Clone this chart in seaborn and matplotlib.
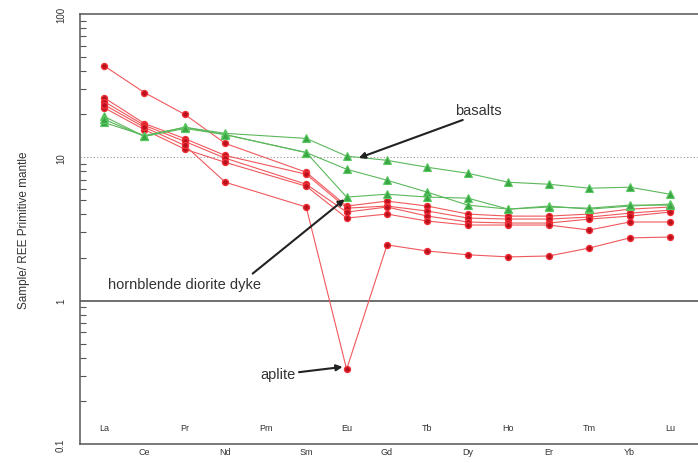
import numpy as np
import pandas as pd
import matplotlib
matplotlib.use("Agg")
import matplotlib.pyplot as plt
import seaborn as sns
from matplotlib.ticker import LogLocator, NullFormatter, FixedLocator

# ---------------- data ----------------
elements = ["La", "Ce", "Pr", "Nd", "Pm", "Sm", "Eu", "Gd", "Tb", "Dy", "Ho", "Er", "Tm", "Yb", "Lu"]
measured = ["La", "Ce", "Pr", "Nd", "Sm", "Eu", "Gd", "Tb", "Dy", "Ho", "Er", "Tm", "Yb", "Lu"]

dyke_1 = [43.5, 28.3, 19.9, 12.5, 7.87, 4.57, 4.95, 4.57, 4.02, 3.89, 3.89, 4.02, 4.35, 4.50]
dyke_2 = [26.1, 17.2, 13.5, 10.3, 7.62, 4.42, 4.57, 4.22, 3.77, 3.71, 3.71, 3.83, 4.08, 4.28]
dyke_3 = [24.5, 16.7, 12.9, 9.86, 6.49, 4.15, 4.50, 3.89, 3.54, 3.48, 3.48, 3.71, 3.89, 4.15]
dyke_4 = [22.2, 15.6, 11.4, 9.22, 6.29, 3.77, 4.02, 3.59, 3.37, 3.37, 3.37, 3.11, 3.54, 3.54]
aplite = [23.3, 16.2, 12.1, 6.70, 4.50, 0.332, 2.45, 2.22, 2.09, 2.02, 2.05, 2.33, 2.74, 2.78]

basalt_1 = [19.3, 14.0, 16.2, 14.7, 13.55, 10.2, 9.53, 8.52, 7.74, 6.70, 6.49, 6.09, 6.19, 5.53]
basalt_2 = [17.5, 14.2, 16.2, 14.4, 10.8, 8.26, 6.92, 5.71, 4.64, 4.35, 4.57, 4.35, 4.57, 4.72]
basalt_3 = [18.4, 14.0, 15.9, 14.4, 10.8, 5.28, 5.53, 5.28, 5.19, 4.35, 4.50, 4.42, 4.64, 4.64]

red_series = {"dyke_1": dyke_1, "dyke_2": dyke_2, "dyke_3": dyke_3, "dyke_4": dyke_4, "aplite": aplite}
green_series = {"basalt_1": basalt_1, "basalt_2": basalt_2, "basalt_3": basalt_3}

ytick_vals = [0.1, 1, 10, 100]
ytick_labels = ["0.1", "1", "10", "100"]
ylabel = "Sample/ REE Primitive mantle"

# ---------------- figure ----------------
sns.set_style("white")
plt.rcParams["font.family"] = ["Liberation Sans", "DejaVu Sans"]

fig = plt.figure(figsize=(6.98, 4.64), dpi=100)
ax = fig.add_axes([80 / 698, 1 - 445 / 464, 1 - 80 / 698, (445 - 15) / 464])

xpos = {e: i for i, e in enumerate(elements)}
rows = []
for name, vals in list(red_series.items()) + list(green_series.items()):
    for e, v in zip(measured, vals):
        rows.append({"series": name, "x": xpos[e], "value": v,
                     "group": "red" if name in red_series else "green"})
df = pd.DataFrame(rows)

RED_LINE = "#f0585c"
RED_FACE = "#b8101c"
RED_EDGE = "#f03038"
GRN_LINE = "#5cb85c"
GRN_FACE = "#3aa646"
GRN_EDGE = "#5cc862"

for name in red_series:
    sub = df[df.series == name]
    sns.lineplot(data=sub, x="x", y="value", ax=ax, color=RED_LINE, lw=0.8,
                 marker="o", markersize=4.3, markerfacecolor=RED_FACE,
                 markeredgecolor=RED_EDGE, markeredgewidth=1.0,
                 sort=False, estimator=None, legend=False, zorder=3)
for name in green_series:
    sub = df[df.series == name]
    sns.lineplot(data=sub, x="x", y="value", ax=ax, color=GRN_LINE, lw=0.8,
                 marker="^", markersize=5.3, markerfacecolor=GRN_FACE,
                 markeredgecolor=GRN_EDGE, markeredgewidth=0.8,
                 sort=False, estimator=None, legend=False, zorder=3)

ax.set_yscale("log")
ax.set_ylim(0.1, 100)
ax.set_xlim(-0.594, 14.69)
ax.set_xlabel("")

# reference lines
ax.axhline(1, color="#555555", lw=1.2, zorder=1)
ax.axhline(10, color="#999999", lw=0.8, ls=(0, (1, 2)), zorder=1)

# spines
for s in ["top", "left", "bottom"]:
    ax.spines[s].set_visible(True)
    ax.spines[s].set_color("#555555")
    ax.spines[s].set_linewidth(1.1)
ax.spines["right"].set_visible(False)

# y ticks
ax.yaxis.set_major_locator(FixedLocator(ytick_vals))
ax.set_yticklabels(ytick_labels, rotation=90, va="center", fontsize=7, color="#333333")
ax.yaxis.set_minor_locator(LogLocator(base=10, subs=np.arange(2, 10)))
ax.yaxis.set_minor_formatter(NullFormatter())
ax.tick_params(axis="y", which="major", direction="out", length=6, width=1, color="#555555", pad=4)
ax.tick_params(axis="y", which="minor", direction="in", length=4, width=0.8, color="#555555", left=True)
ax.set_ylabel(ylabel, fontsize=8.5, color="#333333", labelpad=19)

# x ticks: alternating labels
ax.set_xticks(range(len(elements)))
ax.set_xticklabels([])
ax.tick_params(axis="x", which="major", direction="inout", length=7, width=0.9, color="#555555")
ax.tick_params(axis="x", which="minor", bottom=False)
for i, e in enumerate(elements):
    if i % 2 == 0:
        ax.text(i, 0.121, e, ha="center", va="bottom", fontsize=6.5, color="#333333")
    else:
        ax.text(i, 0.0955, e, ha="center", va="top", fontsize=6.5, color="#333333", clip_on=False)

# annotations
arrow_kw = dict(arrowstyle="-|>", color="#222222", lw=1.5, mutation_scale=9, shrinkA=0, shrinkB=0)
ax.annotate("basalts", xy=(6.3, 9.9), xytext=(9.25, 21.5), fontsize=10.5, color="#333333",
            ha="center", va="center",
            arrowprops=dict(arrow_kw, relpos=(0.2, -0.2)))
ax.annotate("hornblende diorite dyke", xy=(5.95, 5.1), xytext=(0.1, 1.31), fontsize=10.5,
            color="#333333", ha="left", va="center",
            arrowprops=dict(arrow_kw, relpos=(0.93, 1.1)))
ax.annotate("aplite", xy=(5.9, 0.345), xytext=(4.3, 0.31), fontsize=10.5, color="#333333",
            ha="center", va="center",
            arrowprops=dict(arrow_kw, relpos=(1.1, 0.6)))

fig.savefig("out.png", dpi=100)
